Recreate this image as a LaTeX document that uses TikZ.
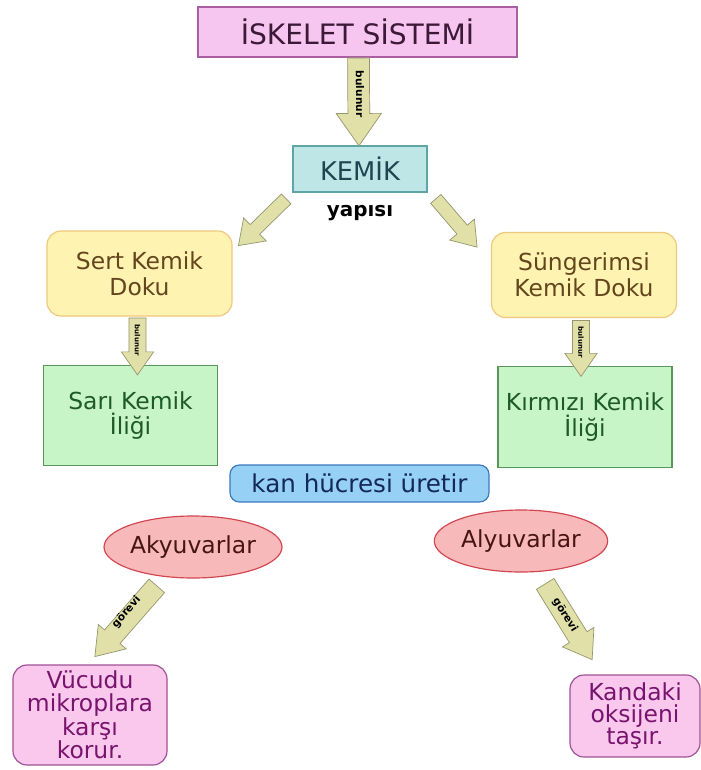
\documentclass[tikz,border=0pt]{standalone}
\usepackage{fontspec}
\setmainfont{DejaVu Sans}
\usetikzlibrary{shapes.geometric, shapes.arrows, calc, positioning}
\definecolor{ttlfill}{RGB}{246,198,240}
\definecolor{ttlline}{RGB}{170,95,160}
\definecolor{ttltext}{RGB}{60,25,55}
\definecolor{bonefill}{RGB}{190,230,230}
\definecolor{boneline}{RGB}{95,165,165}
\definecolor{bonetext}{RGB}{30,70,80}
\definecolor{tisfill}{RGB}{255,243,178}
\definecolor{tisline}{RGB}{240,200,125}
\definecolor{tistext}{RGB}{100,70,30}
\definecolor{marfill}{RGB}{200,245,200}
\definecolor{marline}{RGB}{90,150,90}
\definecolor{martext}{RGB}{30,90,40}
\definecolor{prodfill}{RGB}{150,208,245}
\definecolor{prodline}{RGB}{60,120,190}
\definecolor{prodtext}{RGB}{20,40,90}
\definecolor{cellfill}{RGB}{247,185,185}
\definecolor{cellline}{RGB}{210,70,80}
\definecolor{celltext}{RGB}{70,20,20}
\definecolor{dutyfill}{RGB}{250,200,236}
\definecolor{dutyline}{RGB}{160,80,150}
\definecolor{dutytext}{RGB}{120,20,110}
\definecolor{arrfill}{RGB}{224,224,168}
\definecolor{arrline}{RGB}{150,150,110}
\tikzset{
  box/.style={draw, line width=1pt, align=center, inner sep=2pt,
              font=\fontsize{20}{22}\selectfont},
  title/.style={box, fill=ttlfill, draw=ttlline, text=ttltext,
                minimum width=9.57cm, minimum height=1.5cm,
                font=\fontsize{24}{26}\selectfont},
  bone/.style={box, fill=bonefill, draw=boneline, text=bonetext,
               minimum width=4.02cm, minimum height=1.38cm,
               font=\fontsize{22}{24}\selectfont},
  tissue/.style={box, rounded corners=12pt, fill=tisfill, draw=tisline,
                 text=tistext, minimum width=5.55cm, minimum height=2.55cm},
  marrow/.style={box, fill=marfill, draw=marline, text=martext,
                 minimum width=5.22cm, minimum height=3.02cm},
  product/.style={box, rounded corners=8pt, fill=prodfill, draw=prodline,
                  text=prodtext, minimum width=7.77cm, minimum height=1.11cm,
                  font=\fontsize{21}{22}\selectfont},
  cell/.style={box, ellipse, inner sep=0pt, fill=cellfill, draw=cellline,
               text=celltext, minimum height=1.86cm},
  duty/.style={box, rounded corners=12pt, fill=dutyfill, draw=dutyline,
               text=dutytext, font=\fontsize{20}{19}\selectfont},
  blkarr/.style={single arrow, draw=arrline, fill=arrfill, line width=0.6pt,
                 single arrow tip angle=70, single arrow head indent=0pt,
                 anchor=tail, inner xsep=2pt, text height=6pt, text depth=1.5pt,
                 font=\bfseries\fontsize{9}{9}\selectfont, text=black},
  shaft/.style 2 args={inner ysep=#1, single arrow head extend=#2},
}
% block arrow from tail to tip, label runs along the shaft
\newcommand\blockarrow[4][]{%
  \path let \p1=(#2), \p2=(#3) in
    node[blkarr, #1, rotate={atan2(\y2-\y1,\x2-\x1)},
         minimum height={veclen(\x2-\x1,\y2-\y1)}] at (\p1) {#4};}
\begin{document}
\begin{tikzpicture}[x=0.03cm, y=-0.03cm]
  \path[use as bounding box, fill=white] (0,0) rectangle (701,770);

  % boxes
  \node[title]   (skel)    at (357.5,32)  {İSKELET SİSTEMİ};
  \node[bone]    (kemik)   at (360,169)   {KEMİK};
  \node[font=\bfseries\fontsize{17}{17}\selectfont] (yapi) at (360,213) {yapısı};
  \node[tissue]  (sert)    at (139.5,273.5) {Sert Kemik\\Doku};
  \node[tissue]  (sunger)  at (584,275)   {Süngerimsi\\Kemik Doku};
  \node[marrow]  (sari)    at (130.5,415.5) {Sarı Kemik\\İliği};
  \node[marrow]  (kirmizi) at (585,417)   {Kırmızı Kemik\\İliği};
  \node[product] (kan)     at (359.5,483.5) {kan hücresi üretir};
  \node[cell, minimum width=5.0cm] (ak) at (193,547) {Akyuvarlar};
  \node[cell, minimum width=5.2cm] (al) at (521,541) {Alyuvarlar};
  \node[duty, minimum width=4.62cm, minimum height=3cm]    (koru) at (90,715)  {Vücudu\\mikroplara\\karşı\\korur.};
  \node[duty, minimum width=3.9cm,  minimum height=2.46cm] (tasi) at (635,716) {Kandaki\\oksijeni\\taşır.};

  % arrows
  \blockarrow[shaft={5.25pt}{10pt}]{$(skel.south)+(1,0)$}{$(kemik.north)+(-1,0)$}{bulunur}
  \blockarrow[shaft={1.75pt}{8pt}]{$(kemik.south west)+(-6,6)$}{$(sert.north east)+(6,15)$}{}
  \blockarrow[shaft={1.75pt}{8pt}]{$(kemik.south east)+(8,6)$}{$(sunger.north west)+(-14,15)$}{}
  \blockarrow[shaft={3.25pt}{6.5pt}, font=\bfseries\fontsize{6}{6}\selectfont]{$(sert.south)+(-2,1)$}{$(sert.south)+(-2,58)$}{bulunur}
  \blockarrow[shaft={3.25pt}{6.5pt}, font=\bfseries\fontsize{6}{6}\selectfont]{$(sunger.south)+(-3,2)$}{$(sunger.south)+(-3,58)$}{bulunur}
  \blockarrow[shaft={4.75pt}{7pt}]{$(ak.south)+(-36,7)$}{$(koru.north)+(5,-8)$}{\rotatebox{180}{görevi}}
  \blockarrow[shaft={4.75pt}{7pt}]{$(al.south)+(24,11)$}{$(tasi.north)+(-43,-15)$}{görevi}
\end{tikzpicture}
\end{document}
